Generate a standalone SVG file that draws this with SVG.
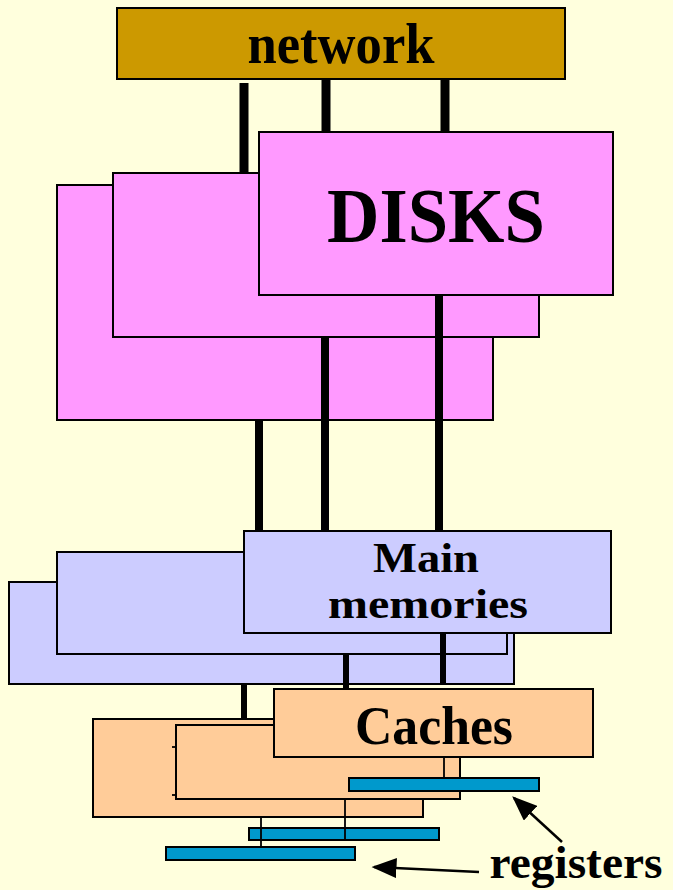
<svg xmlns="http://www.w3.org/2000/svg" width="673" height="890" viewBox="0 0 673 890">
<defs>
<style>
.box{stroke:#000;stroke-width:2}
.disk{fill:#FF99FF}
.mem{fill:#CCCCFF}
.cache{fill:#FFCC99}
.reg{fill:#0099CC}
.net{fill:#CC9900}
.lbl{font-family:"Liberation Serif","Times New Roman",serif;font-weight:bold;fill:#000;text-anchor:middle}
.thick{stroke:#000;fill:none}
.thin{stroke:#000;stroke-width:1.8;fill:none}
.arr{stroke:#000;stroke-width:2.5;fill:none;marker-end:url(#ah)}
</style>
<marker id="ah" markerWidth="10" markerHeight="8" refX="9" refY="4" orient="auto" markerUnits="strokeWidth">
<path d="M0,0 L10,4 L0,8 Z" fill="#000"/>
</marker>
</defs>
<rect width="673" height="890" fill="#FFFFDD"/>

<g id="network">
<rect class="box net" x="117" y="8" width="448" height="71"/>
<text class="lbl" x="341" y="63" font-size="56" textLength="187" lengthAdjust="spacingAndGlyphs">network</text>
</g>

<g id="disk3"><rect class="box disk" x="57" y="185" width="436" height="235"/></g>
<g id="disk2"><rect class="box disk" x="113" y="173" width="426" height="164"/></g>
<g id="disk1">
<rect class="box disk" x="259" y="132" width="354" height="163"/>
<text class="lbl" x="436" y="242" font-size="78" textLength="218" lengthAdjust="spacingAndGlyphs">DISKS</text>
</g>

<g id="mem3"><rect class="box mem" x="9" y="582" width="505" height="102"/></g>
<g id="mem2"><rect class="box mem" x="57" y="552" width="450" height="102"/></g>
<g id="mem1">
<rect class="box mem" x="244" y="531" width="367" height="102"/>
<text class="lbl" x="426" y="572" font-size="42" textLength="106" lengthAdjust="spacingAndGlyphs">Main</text>
<text class="lbl" x="428" y="618" font-size="42" textLength="200" lengthAdjust="spacingAndGlyphs">memories</text>
</g>

<g id="cache3"><rect class="box cache" x="93" y="719" width="330" height="98"/></g>
<g id="cache2"><rect class="box cache" x="176" y="725" width="284" height="74"/></g>
<g id="cache1">
<rect class="box cache" x="274" y="689" width="319" height="68"/>
<text class="lbl" x="434" y="744" font-size="54" textLength="158" lengthAdjust="spacingAndGlyphs">Caches</text>
</g>

<g id="reg1"><rect class="box reg" x="349" y="778" width="190" height="13"/></g>
<g id="reg2"><rect class="box reg" x="249" y="828" width="190" height="12"/></g>
<g id="reg3"><rect class="box reg" x="166" y="847" width="189" height="13"/></g>

<g id="registers-label">
<text class="lbl" x="576" y="878" font-size="47" textLength="173" lengthAdjust="spacingAndGlyphs">registers</text>
</g>

<g id="connectors">
<line class="thick" stroke-width="9" x1="244" y1="83" x2="244" y2="173"/>
<line class="thick" stroke-width="9" x1="326" y1="79" x2="326" y2="132"/>
<line class="thick" stroke-width="9" x1="445" y1="79" x2="445" y2="132"/>
<line class="thick" stroke-width="8" x1="259" y1="420" x2="259" y2="531"/>
<line class="thick" stroke-width="8" x1="325" y1="337" x2="325" y2="531"/>
<line class="thick" stroke-width="8" x1="439" y1="295" x2="439" y2="531"/>
<line class="thick" stroke-width="6" x1="443" y1="633" x2="443" y2="684"/>
<line class="thick" stroke-width="6" x1="346" y1="654" x2="346" y2="689"/>
<line class="thick" stroke-width="6" x1="244" y1="684" x2="244" y2="719"/>
<line class="thin" x1="444" y1="757" x2="444" y2="778"/>
<line class="thin" x1="345" y1="799" x2="345" y2="840"/>
<line class="thin" x1="261" y1="817" x2="261" y2="847"/>
<line class="thin" x1="172" y1="747" x2="176" y2="747"/>
<line class="thin" x1="172" y1="795" x2="176" y2="795"/>
<line class="arr" x1="562" y1="842" x2="514" y2="798"/>
<line class="arr" x1="479" y1="872" x2="374" y2="867"/>
</g>
</svg>
